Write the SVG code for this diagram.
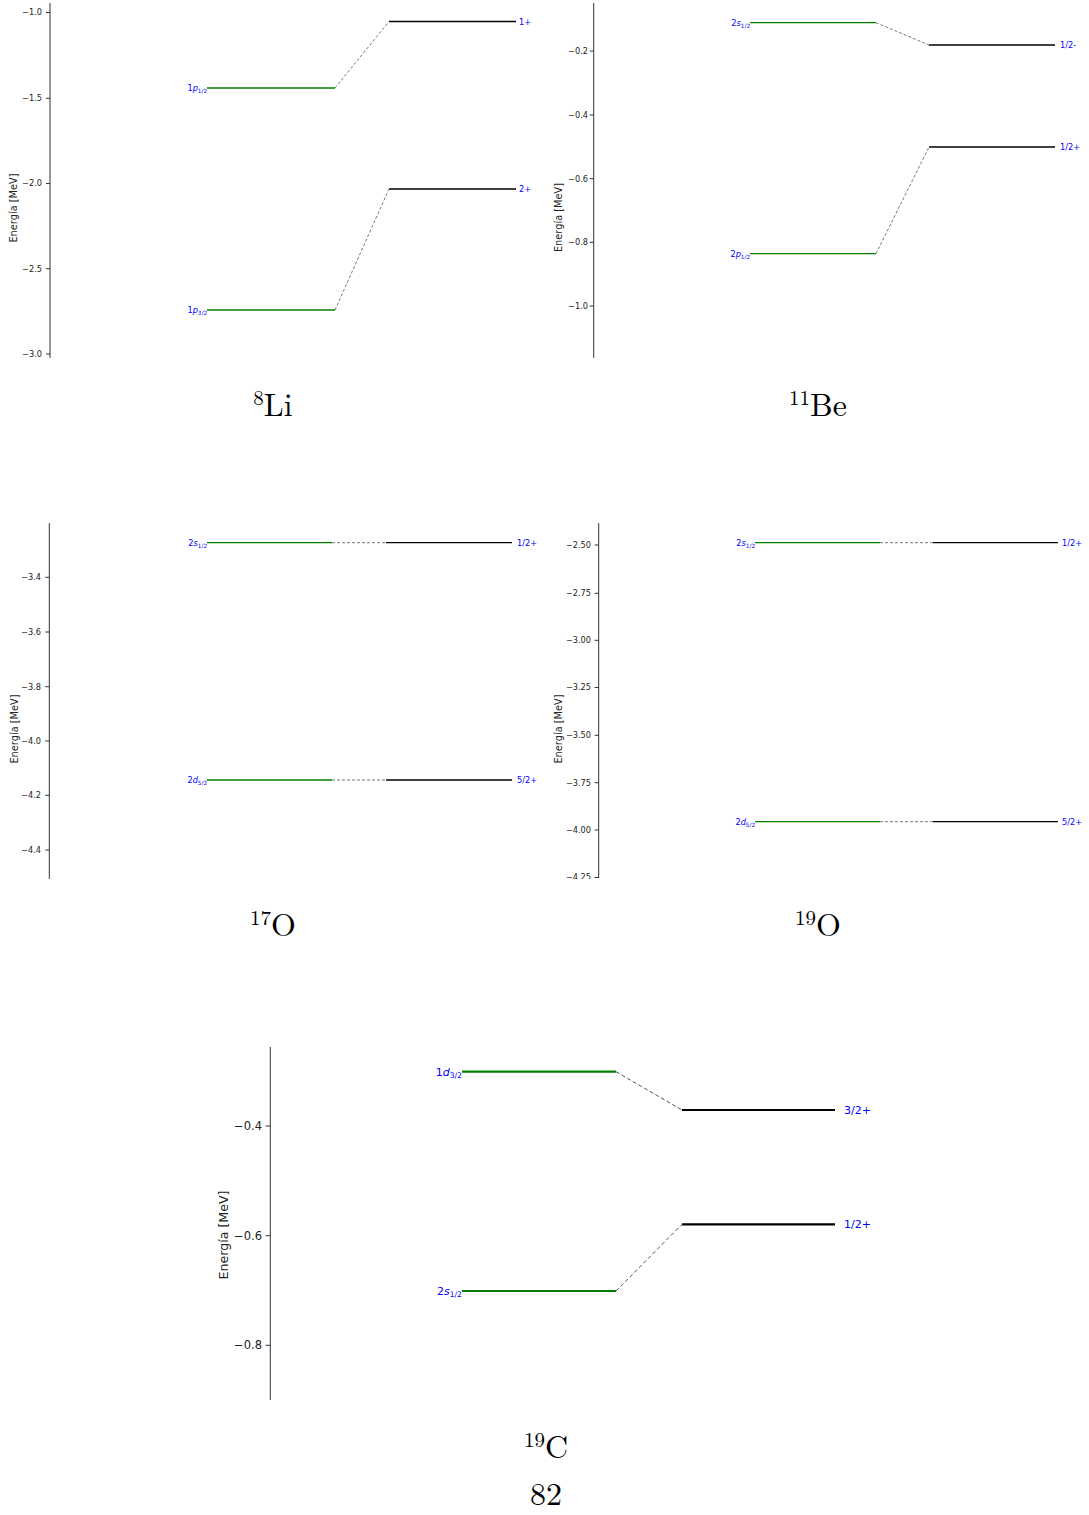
<svg xmlns="http://www.w3.org/2000/svg" width="1089" height="1515" viewBox="0 0 1089 1515">
<style>
.ax{stroke:#333;stroke-width:1;fill:none}
.tk{font-family:"DejaVu Sans",sans-serif;font-size:8.2px;fill:#222;text-anchor:end}
.tkb{font-family:"DejaVu Sans",sans-serif;font-size:11.5px;fill:#222;text-anchor:end}
.yl{font-family:"DejaVu Sans",sans-serif;font-size:9.8px;fill:#222;text-anchor:middle}
.ylb{font-family:"DejaVu Sans",sans-serif;font-size:12.6px;fill:#222;text-anchor:middle}
.g{stroke:#008000;stroke-width:1.3}
.k{stroke:#000;stroke-width:1.3}
.gb{stroke:#008000;stroke-width:2.2}
.kb{stroke:#000;stroke-width:2.2}
.d{stroke:#555;stroke-width:0.8;stroke-dasharray:3 2;fill:none}
.db{stroke:#555;stroke-width:1;stroke-dasharray:4 2.5;fill:none}
.lb{font-family:"DejaVu Sans",sans-serif;font-size:8.2px;fill:#00f}
.lbl{font-family:"DejaVu Sans",sans-serif;font-size:8.2px;fill:#00f;text-anchor:end}
.lbb{font-family:"DejaVu Sans",sans-serif;font-size:11px;fill:#00f}
.lblb{font-family:"DejaVu Sans",sans-serif;font-size:11px;fill:#00f;text-anchor:end}
.i{font-style:italic}
.t{font-family:"Latin Modern Roman","Liberation Serif",serif;font-size:32px;fill:#000;text-anchor:middle}
</style>
<defs>
<clipPath id="clip4"><rect x="540" y="515" width="549" height="364"/></clipPath>
</defs>

<!-- Panel 1: 8Li -->
<g id="panel-8Li">
  <line class="ax" x1="50" y1="3" x2="50" y2="358"/>
  <path class="ax" d="M46,12.5H50M46,98.3H50M46,183.5H50M46,268.7H50M46,354H50"/>
  <text class="tk" x="42" y="15.4">−1.0</text>
  <text class="tk" x="42" y="101.2">−1.5</text>
  <text class="tk" x="42" y="186.4">−2.0</text>
  <text class="tk" x="42" y="271.6">−2.5</text>
  <text class="tk" x="42" y="356.9">−3.0</text>
  <text class="yl" transform="translate(17.3,208) rotate(-90)">Energía [MeV]</text>
  <g id="li-1p12"><line class="g" x1="207" y1="88" x2="335" y2="88"/><text class="lbl" x="207" y="91">1<tspan class="i">p</tspan><tspan font-size="5.7" dy="1.8">1/2</tspan></text></g>
  <g id="li-1p32"><line class="g" x1="207" y1="310" x2="335" y2="310"/><text class="lbl" x="207" y="313">1<tspan class="i">p</tspan><tspan font-size="5.7" dy="1.8">3/2</tspan></text></g>
  <g id="li-1plus"><line class="k" x1="389" y1="21.5" x2="516" y2="21.5"/><text class="lb" x="519" y="24.5">1+</text></g>
  <g id="li-2plus"><line class="k" x1="389" y1="189" x2="516" y2="189"/><text class="lb" x="519" y="192">2+</text></g>
  <text class="t" x="273" y="416"><tspan font-size="21" dy="-11">8</tspan><tspan dy="11">Li</tspan></text>
</g>

<!-- Panel 2: 11Be -->
<g id="panel-11Be">
  <line class="ax" x1="593.7" y1="3" x2="593.7" y2="358"/>
  <path class="ax" d="M589.7,51H593.7M589.7,115H593.7M589.7,178.7H593.7M589.7,242.3H593.7M589.7,306H593.7"/>
  <text class="tk" x="588" y="53.9">−0.2</text>
  <text class="tk" x="588" y="117.9">−0.4</text>
  <text class="tk" x="588" y="181.6">−0.6</text>
  <text class="tk" x="588" y="245.2">−0.8</text>
  <text class="tk" x="588" y="308.9">−1.0</text>
  <text class="yl" transform="translate(561.5,217.5) rotate(-90)">Energía [MeV]</text>
  <g id="be-2s12"><line class="g" x1="750" y1="22.7" x2="876" y2="22.7"/><text class="lbl" x="750" y="25.7">2<tspan class="i">s</tspan><tspan font-size="5.7" dy="1.8">1/2</tspan></text></g>
  <g id="be-2p12"><line class="g" x1="750" y1="253.7" x2="876" y2="253.7"/><text class="lbl" x="750" y="256.7">2<tspan class="i">p</tspan><tspan font-size="5.7" dy="1.8">1/2</tspan></text></g>
  <g id="be-12minus"><line class="k" x1="929" y1="45" x2="1055" y2="45"/><text class="lb" x="1060" y="48">1/2-</text></g>
  <g id="be-12plus"><line class="k" x1="929" y1="147" x2="1055" y2="147"/><text class="lb" x="1060" y="150">1/2+</text></g>
  <text class="t" x="818" y="416"><tspan font-size="21" dy="-11">11</tspan><tspan dy="11">Be</tspan></text>
</g>

<!-- Panel 3: 17O -->
<g id="panel-17O">
  <line class="ax" x1="49.3" y1="523" x2="49.3" y2="879"/>
  <path class="ax" d="M45.3,577.3H49.3M45.3,632H49.3M45.3,686.7H49.3M45.3,741H49.3M45.3,795.3H49.3M45.3,850H49.3"/>
  <text class="tk" x="41" y="580.2">−3.4</text>
  <text class="tk" x="41" y="634.9">−3.6</text>
  <text class="tk" x="41" y="689.6">−3.8</text>
  <text class="tk" x="41" y="743.9">−4.0</text>
  <text class="tk" x="41" y="798.2">−4.2</text>
  <text class="tk" x="41" y="852.9">−4.4</text>
  <text class="yl" transform="translate(17.5,729) rotate(-90)">Energía [MeV]</text>
  <g id="o17-2s12"><line class="g" x1="207" y1="542.7" x2="332" y2="542.7"/><text class="lbl" x="207" y="545.7">2<tspan class="i">s</tspan><tspan font-size="5.7" dy="1.8">1/2</tspan></text></g>
  <g id="o17-2d52"><line class="g" x1="207" y1="780" x2="332" y2="780"/><text class="lbl" x="207" y="783">2<tspan class="i">d</tspan><tspan font-size="5.7" dy="1.8">5/2</tspan></text></g>
  <g id="o17-12plus"><line class="k" x1="386" y1="542.7" x2="512" y2="542.7"/><text class="lb" x="517" y="545.7">1/2+</text></g>
  <g id="o17-52plus"><line class="k" x1="386" y1="780" x2="512" y2="780"/><text class="lb" x="517" y="783">5/2+</text></g>
  <text class="t" x="273" y="936"><tspan font-size="21" dy="-11">17</tspan><tspan dy="11">O</tspan></text>
</g>

<!-- Panel 4: 19O -->
<g id="panel-19O">
  <line class="ax" x1="598.7" y1="523" x2="598.7" y2="878"/>
  <g clip-path="url(#clip4)">
  <path class="ax" d="M594.7,545H598.7M594.7,593.3H598.7M594.7,640.3H598.7M594.7,687.5H598.7M594.7,735.3H598.7M594.7,782.7H598.7M594.7,830H598.7M594.7,877.5H598.7"/>
  <text class="tk" x="591" y="547.9">−2.50</text>
  <text class="tk" x="591" y="596.2">−2.75</text>
  <text class="tk" x="591" y="643.2">−3.00</text>
  <text class="tk" x="591" y="690.4">−3.25</text>
  <text class="tk" x="591" y="738.2">−3.50</text>
  <text class="tk" x="591" y="785.6">−3.75</text>
  <text class="tk" x="591" y="832.9">−4.00</text>
  <text class="tk" x="591" y="880.4">−4.25</text>
  </g>
  <text class="yl" transform="translate(561.5,729) rotate(-90)">Energía [MeV]</text>
  <g id="o19-2s12"><line class="g" x1="755" y1="542.7" x2="880" y2="542.7"/><text class="lbl" x="755" y="545.7">2<tspan class="i">s</tspan><tspan font-size="5.7" dy="1.8">1/2</tspan></text></g>
  <g id="o19-2d52"><line class="g" x1="755" y1="821.7" x2="880" y2="821.7"/><text class="lbl" x="755" y="824.7">2<tspan class="i">d</tspan><tspan font-size="5.7" dy="1.8">5/2</tspan></text></g>
  <g id="o19-12plus"><line class="k" x1="933" y1="542.7" x2="1058" y2="542.7"/><text class="lb" x="1062" y="545.7">1/2+</text></g>
  <g id="o19-52plus"><line class="k" x1="933" y1="821.7" x2="1058" y2="821.7"/><text class="lb" x="1062" y="824.7">5/2+</text></g>
  <text class="t" x="818" y="936"><tspan font-size="21" dy="-11">19</tspan><tspan dy="11">O</tspan></text>
</g>

<!-- Panel 5: 19C -->
<g id="panel-19C">
  <line class="ax" x1="270.3" y1="1047" x2="270.3" y2="1400"/>
  <path class="ax" d="M265.5,1126H270.3M265.5,1235.7H270.3M265.5,1345.3H270.3"/>
  <text class="tkb" x="262" y="1130">−0.4</text>
  <text class="tkb" x="262" y="1239.7">−0.6</text>
  <text class="tkb" x="262" y="1349.3">−0.8</text>
  <text class="ylb" transform="translate(227.5,1235) rotate(-90)">Energía [MeV]</text>
  <g id="c-1d32"><line class="gb" x1="462" y1="1071.7" x2="616" y2="1071.7"/><text class="lblb" x="462" y="1075.7">1<tspan class="i">d</tspan><tspan font-size="7.7" dy="2.4">3/2</tspan></text></g>
  <g id="c-2s12"><line class="gb" x1="462" y1="1291" x2="616" y2="1291"/><text class="lblb" x="462" y="1295">2<tspan class="i">s</tspan><tspan font-size="7.7" dy="2.4">1/2</tspan></text></g>
  <g id="c-32plus"><line class="kb" x1="682" y1="1110" x2="835" y2="1110"/><text class="lbb" x="844" y="1114">3/2+</text></g>
  <g id="c-12plus"><line class="kb" x1="682" y1="1224.3" x2="835" y2="1224.3"/><text class="lbb" x="844" y="1228.3">1/2+</text></g>
  <text class="t" x="546" y="1458"><tspan font-size="21" dy="-11">19</tspan><tspan dy="11">C</tspan></text>
</g>

<text class="t" x="546" y="1505">82</text>

<!-- Connectors -->
<g id="connectors">
  <line class="d" x1="335" y1="88" x2="389" y2="21.5"/>
  <line class="d" x1="335" y1="310" x2="389" y2="189"/>
  <line class="d" x1="876" y1="22.7" x2="929" y2="45"/>
  <line class="d" x1="876" y1="253.7" x2="929" y2="147"/>
  <line class="d" x1="332" y1="542.7" x2="386" y2="542.7"/>
  <line class="d" x1="332" y1="780" x2="386" y2="780"/>
  <line class="d" x1="880" y1="542.7" x2="933" y2="542.7"/>
  <line class="d" x1="880" y1="821.7" x2="933" y2="821.7"/>
  <line class="db" x1="616" y1="1071.7" x2="682" y2="1110"/>
  <line class="db" x1="616" y1="1291" x2="682" y2="1224.3"/>
</g>
</svg>
